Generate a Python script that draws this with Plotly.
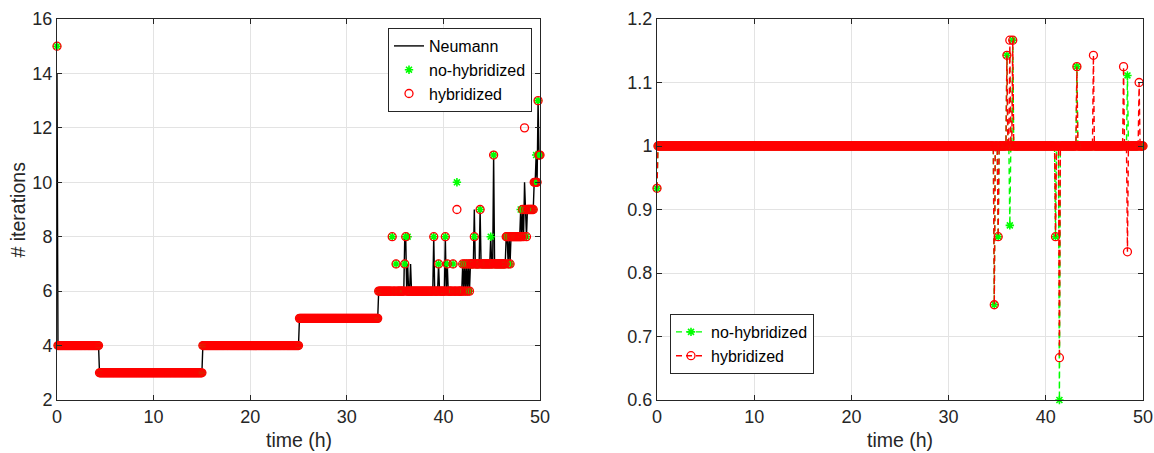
import numpy as np
import plotly.graph_objects as go

# time axis: one solver step every 0.1 h over the 50 h simulation
time_h = np.round(np.arange(0, 501) * 0.1, 1)

# plateaus of the iteration count shared by the three solvers (start time, level)
plateau_start = [0.1, 4.4, 15.1, 25.1, 33.3, 42.8, 46.5, 48.2, 49.4]
plateau_level = [4, 3, 4, 5, 6, 7, 8, 9, 10]

# individual steps that leave the plateau
event_time = [0.0, 34.7, 35.1, 36.0, 36.1, 36.3, 36.6, 39.0, 39.5, 40.2, 40.4,
              41.0, 41.4, 42.0, 42.2, 42.4, 42.6, 43.2, 43.8, 44.9, 45.2, 46.7,
              46.9, 48.0, 48.3, 48.4, 48.6, 49.6, 49.8, 49.9, 50.0]
event_neumann = [14, 6, 6, 8, 8, 7, 7, 8, 7, 8, 7, 6, 6, 7, 7, 7, 7, 9, 9, 8,
                 11, 7, 7, 9, 8, 10, 8, 11, 13, 11, 11]
event_nohyb = [15, 8, 7, 7, 8, 8, 6, 8, 7, 8, 7, 7, 10, 7, 7, 7, 7, 8, 9, 8,
               11, 7, 7, 9, 8, 9, 8, 11, 13, 11, 11]
event_hyb = [15, 8, 7, 7, 8, 6, 6, 8, 7, 8, 7, 7, 9, 7, 7, 7, 7, 8, 9, 7,
             11, 7, 7, 8, 8, 12, 8, 10, 13, 11, 11]

x_ticks = [0, 10, 20, 30, 40, 50]
y_ticks_left = [2, 4, 6, 8, 10, 12, 14, 16]
y_ticks_right = [0.6, 0.7, 0.8, 0.9, 1.0, 1.1, 1.2]
y_ticktext_right = ["0.6", "0.7", "0.8", "0.9", "1", "1.1", "1.2"]


def build_series(event_values):
    idx = np.searchsorted(plateau_start, time_h, side="right") - 1
    series = np.array(plateau_level, dtype=float)[np.clip(idx, 0, None)]
    for t, v in zip(event_time, event_values):
        series[int(round(t * 10))] = v
    return series


neumann = build_series(event_neumann)
nohyb = build_series(event_nohyb)
hyb = build_series(event_hyb)

# ratio of Neumann iterations to the iterations of each variant
ratio_nohyb = neumann / nohyb
ratio_hyb = neumann / hyb

GREEN = "#00ff00"
RED = "#ff0000"
AX = "#262626"
GRID = "#e3e3e3"
FONT = "Liberation Sans, Arial, sans-serif"

fig = go.Figure()

# left panel
fig.add_trace(go.Scatter(x=time_h, y=neumann, mode="lines", name="Neumann",
                         line=dict(color="black", width=1.4),
                         xaxis="x", yaxis="y", legend="legend", cliponaxis=False))
fig.add_trace(go.Scatter(x=time_h, y=nohyb, mode="markers", name="no-hybridized",
                         marker=dict(symbol="asterisk-open", size=7, color=GREEN,
                                     line=dict(color=GREEN, width=1.6)),
                         xaxis="x", yaxis="y", legend="legend", cliponaxis=False))
fig.add_trace(go.Scatter(x=time_h, y=hyb, mode="markers", name="hybridized",
                         marker=dict(symbol="circle-open", size=8, color=RED,
                                     line=dict(color=RED, width=1.3)),
                         xaxis="x", yaxis="y", legend="legend", cliponaxis=False))

# right panel
fig.add_trace(go.Scatter(x=time_h, y=ratio_nohyb, mode="lines+markers", name="no-hybridized",
                         line=dict(color=GREEN, width=1.4, dash="6px,4px"),
                         marker=dict(symbol="asterisk-open", size=7, color=GREEN,
                                     line=dict(color=GREEN, width=1.6)),
                         xaxis="x2", yaxis="y2", legend="legend2", cliponaxis=False))
fig.add_trace(go.Scatter(x=time_h, y=ratio_hyb, mode="lines+markers", name="hybridized",
                         line=dict(color=RED, width=1.4, dash="6px,4px"),
                         marker=dict(symbol="circle-open", size=8, color=RED,
                                     line=dict(color=RED, width=1.3)),
                         xaxis="x2", yaxis="y2", legend="legend2", cliponaxis=False))

W, H = 1154, 453
left_dom = [57 / W, 540 / W]
right_dom = [657 / W, 1143 / W]
y_dom = [(H - 400) / H, (H - 19) / H]

axis_common = dict(
    showline=True, linecolor=AX, linewidth=1, mirror="ticks",
    ticks="inside", ticklen=5, tickwidth=1, tickcolor=AX,
    showgrid=True, gridcolor=GRID, gridwidth=1, zeroline=False,
    tickfont=dict(family=FONT, size=18, color=AX), automargin=False,
)

legend_common = dict(bgcolor="white", bordercolor=AX, borderwidth=1,
                     font=dict(family=FONT, size=16, color="black"),
                     tracegroupgap=0)

fig.update_layout(
    width=W, height=H,
    margin=dict(l=0, r=0, t=0, b=0),
    paper_bgcolor="white", plot_bgcolor="white",
    font=dict(family=FONT, color=AX),
    xaxis=dict(domain=left_dom, range=[0, 50], tickvals=x_ticks, anchor="y", **axis_common),
    yaxis=dict(domain=y_dom, range=[2, 16], tickvals=y_ticks_left, anchor="x", **axis_common),
    xaxis2=dict(domain=right_dom, range=[0, 50], tickvals=x_ticks, anchor="y2", **axis_common),
    yaxis2=dict(domain=y_dom, range=[0.6, 1.2], tickvals=y_ticks_right,
                ticktext=y_ticktext_right, anchor="x2", **axis_common),
    legend=dict(x=532 / W, y=(H - 28) / H, xanchor="right", yanchor="top", **legend_common),
    legend2=dict(x=670 / W, y=(H - 314) / H, xanchor="left", yanchor="top", **legend_common),
    annotations=[
        dict(text="time (h)", x=(57 + 540) / 2 / W, y=(H - 440) / H, xref="paper", yref="paper",
             showarrow=False, xanchor="center", yanchor="middle",
             font=dict(family=FONT, size=19.5, color=AX)),
        dict(text="time (h)", x=(657 + 1143) / 2 / W, y=(H - 440) / H, xref="paper", yref="paper",
             showarrow=False, xanchor="center", yanchor="middle",
             font=dict(family=FONT, size=19.5, color=AX)),
        dict(text="# iterations", x=17.5 / W, y=(H - 210) / H, xref="paper", yref="paper",
             showarrow=False, xanchor="center", yanchor="middle", textangle=-90,
             font=dict(family=FONT, size=19.5, color=AX)),
    ],
)

fig.write_html("out.html")
